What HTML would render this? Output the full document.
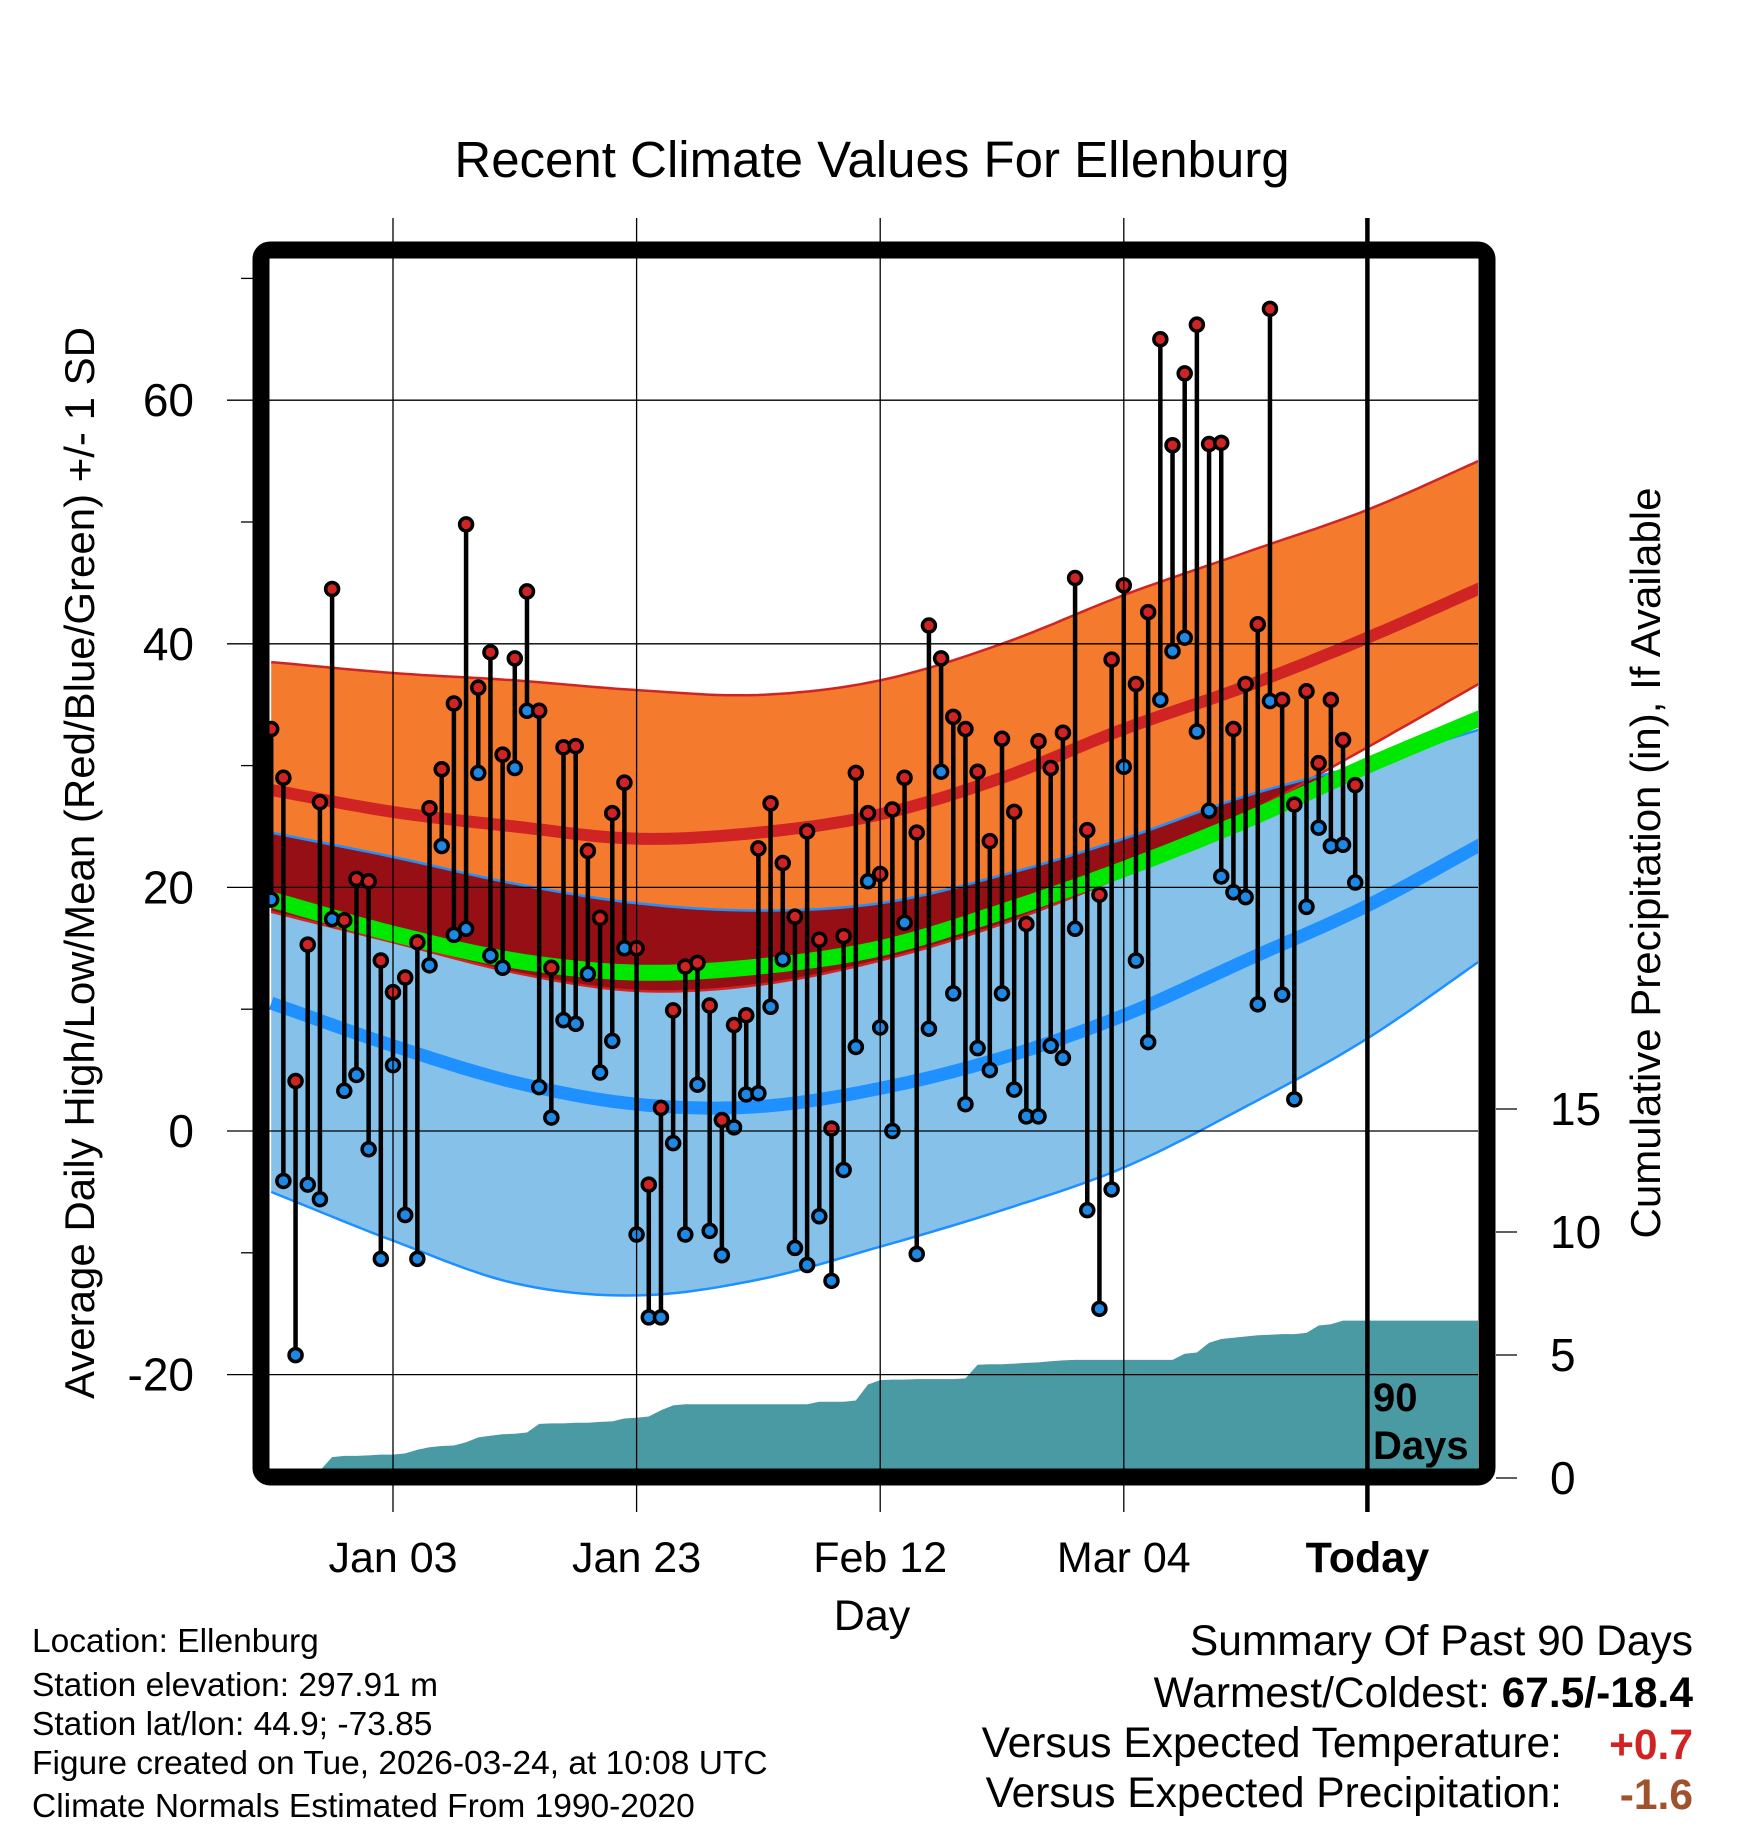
<!DOCTYPE html>
<html><head><meta charset="utf-8"><title>Recent Climate Values For Ellenburg</title>
<style>
html,body{margin:0;padding:0;background:#fff;}
svg{display:block;font-family:"Liberation Sans",Arial,sans-serif;}
</style></head>
<body>
<svg id="chart" width="1748" height="1828" viewBox="0 0 1748 1828" xmlns="http://www.w3.org/2000/svg">
<defs><clipPath id="plotclip"><rect x="269" y="259" width="1209" height="1210"/></clipPath></defs>
<rect x="0" y="0" width="1748" height="1828" fill="#fff"/>
<text x="872" y="177" font-size="51" text-anchor="middle">Recent Climate Values For Ellenburg</text>
<g id="plot" clip-path="url(#plotclip)"></g>
<g id="axes"></g>
<rect x="261" y="250" width="1226" height="1227" rx="9" fill="none" stroke="#000" stroke-width="17"/>
<text transform="translate(94,863) rotate(-90)" font-size="42" text-anchor="middle">Average Daily High/Low/Mean (Red/Blue/Green) +/- 1 SD</text>
<text transform="translate(1660,863) rotate(-90)" font-size="42" text-anchor="middle">Cumulative Precipitation (in), If Available</text>
<text x="872" y="1630" font-size="43" text-anchor="middle">Day</text>
<text x="1373" y="1411" font-size="40" font-weight="bold">90</text>
<text x="1373" y="1459" font-size="40" font-weight="bold">Days</text>
<g font-size="33.5">
<text x="32" y="1652">Location: Ellenburg</text>
<text x="32" y="1696">Station elevation: 297.91 m</text>
<text x="32" y="1735">Station lat/lon: 44.9; -73.85</text>
<text x="32" y="1774">Figure created on Tue, 2026-03-24, at 10:08 UTC</text>
<text x="32" y="1817">Climate Normals Estimated From 1990-2020</text>
</g>
<g font-size="42.5">
<text x="1693" y="1655" text-anchor="end">Summary Of Past 90 Days</text>
<text x="1693" y="1707" text-anchor="end">Warmest/Coldest: <tspan font-weight="bold">67.5/-18.4</tspan></text>
<text x="1562" y="1757" text-anchor="end">Versus Expected Temperature:</text>
<text x="1693" y="1759" text-anchor="end" font-weight="bold" fill="#d02424">+0.7</text>
<text x="1562" y="1807" text-anchor="end">Versus Expected Precipitation:</text>
<text x="1693" y="1809" text-anchor="end" font-weight="bold" fill="#a0522d">-1.6</text>
</g>
</svg>
<script>
const highs=[33,29,4.1,15.3,27,44.5,17.3,20.7,20.5,14,11.4,12.6,15.5,26.5,29.7,35.1,49.8,36.4,39.3,30.9,38.8,44.3,34.5,13.4,31.5,31.6,23,17.5,26.1,28.6,15,-4.4,1.9,9.9,13.5,13.8,10.3,0.9,8.7,9.5,23.2,26.9,22,17.6,24.6,15.7,0.2,16,29.4,26.1,21.1,26.4,29,24.5,41.5,38.8,34,33,29.5,23.8,32.2,26.2,17,32,29.8,32.7,45.4,24.7,19.4,38.7,44.8,36.7,42.6,65,56.3,62.2,66.2,56.4,56.5,33,36.7,41.6,67.5,35.4,26.8,36.1,30.2,35.4,32.1,28.4];
const lows=[19,-4.1,-18.4,-4.4,-5.6,17.4,3.3,4.6,-1.5,-10.5,5.4,-6.9,-10.5,13.6,23.4,16.1,16.6,29.4,14.4,13.4,29.8,34.5,3.6,1.1,9.1,8.8,12.9,4.8,7.4,15,-8.5,-15.3,-15.3,-1,-8.5,3.8,-8.2,-10.2,0.3,3,3.1,10.2,14.1,-9.6,-11,-7,-12.3,-3.2,6.9,20.5,8.5,0,17.1,-10.1,8.4,29.5,11.3,2.2,6.8,5,11.3,3.4,1.2,1.2,7,6,16.6,-6.5,-14.6,-4.8,29.9,14,7.3,35.4,39.4,40.5,32.8,26.3,20.9,19.6,19.2,10.4,35.3,11.2,2.6,18.4,24.9,23.4,23.5,20.4];
const precip=[0,0,0,0,0.3,0.85,0.9,0.9,0.92,0.95,0.95,1.0,1.15,1.25,1.3,1.32,1.45,1.65,1.72,1.78,1.8,1.85,2.2,2.22,2.22,2.25,2.25,2.28,2.3,2.42,2.45,2.5,2.75,2.95,3.0,3.0,3.0,3.0,3.0,3.0,3.0,3.0,3.0,3.0,3.0,3.1,3.1,3.1,3.15,3.8,3.98,4.0,4.0,4.02,4.02,4.02,4.02,4.05,4.6,4.62,4.62,4.65,4.68,4.7,4.75,4.78,4.8,4.8,4.8,4.8,4.8,4.8,4.8,4.8,4.8,5.05,5.1,5.5,5.65,5.7,5.75,5.8,5.82,5.85,5.85,5.9,6.2,6.25,6.4,6.4];
const normDays=[0,10,20,30,40,50,60,70,80,90,100];
const highPlus=[38.5,37.6,37,36.2,35.8,37,40,44,47.5,51,55.4];
const highMean=[28,26.2,25,24,24.5,26,29,33,36.5,40.5,44.9];
const highMinus=[18,15.5,13,11.5,12,14,17,21,26,31.5,37.2];
const lowPlus=[24.5,22.5,20.3,18.7,18.1,18.7,21,24,27.5,30.2,33.2];
const lowMean=[10.5,7,4,2.2,2,3.5,6,9.5,14,18.5,23.9];
const lowMinus=[-5,-9,-12.5,-13.5,-12.2,-9.5,-6.5,-3,2,7.6,14.5];
const meanT=[19,16.2,14,13,13.5,15,18,21.5,25.5,30,34.2];
const yTicks=[60,40,20,0,-20];
const yMinor=[70,50,30,10,-10];
const pTicks=[0,5,10,15];
const xTickDays=[10,30,50,70,90];
const xTickLabels=["Jan 03","Jan 23","Feb 12","Mar 04","Today"];

const NS="http://www.w3.org/2000/svg";
const X=i=>271.2+12.18*i;
const Y=t=>1131-12.18*t;
const P=v=>1478-24.6*v;
const plot=document.getElementById('plot');
const axes=document.getElementById('axes');
function mk(tag,attrs,parent){const e=document.createElementNS(NS,tag);for(const k in attrs)e.setAttribute(k,attrs[k]);parent.appendChild(e);return e;}
function curve(vals){const n=vals.length;const pts=[];
for(let k=0;k<n-1;k++){const p1=vals[k],p2=vals[k+1];
const p0=k>0?vals[k-1]:2*p1-p2;const p3=k+2<n?vals[k+2]:2*p2-p1;
for(let s=0;s<12;s++){const t=s/12;const t2=t*t,t3=t2*t;
const v=0.5*((2*p1)+(-p0+p2)*t+(2*p0-5*p1+4*p2-p3)*t2+(-p0+3*p1-3*p2+p3)*t3);
const d=normDays[k]+(normDays[k+1]-normDays[k])*t;pts.push([X(d),Y(v)]);}}
pts.push([X(normDays[n-1]),Y(vals[n-1])]);return pts;}
function band(a,b,fill,name){const p1=curve(a),p2=curve(b).reverse();const d='M'+p1.concat(p2).map(p=>p[0].toFixed(1)+','+p[1].toFixed(1)).join('L')+'Z';const e=mk('path',{d:d,fill:fill},plot);


return e;}
function line(a,stroke,w,name){const d='M'+curve(a).map(p=>p[0].toFixed(1)+','+p[1].toFixed(1)).join('L');const e=mk('path',{d:d,fill:'none',stroke:stroke,'stroke-width':w},plot);


return e;}
band(highPlus,highMinus,'#f47a2d','high-sd-band');
band(lowPlus,lowMinus,'#85c1e8','low-sd-band');
const ovTop=lowPlus.map((v,i)=>Math.min(v,highPlus[i]));
const ovBot=highMinus.map((v,i)=>Math.min(Math.max(v,lowMinus[i]),ovTop[i]));
band(ovTop,ovBot,'#960f14','overlap-band');
line(highPlus,'#d02424',2.5,'high-sd-upper-edge');
line(highMinus,'#d02424',2.5,'high-sd-lower-edge');
line(lowPlus,'#1e90ff',2.5,'low-sd-upper-edge');
line(lowMinus,'#1e90ff',2.5,'low-sd-lower-edge');
line(highMean,'#d02424',12,'normal-high-line');
line(lowMean,'#1e90ff',13,'normal-low-line');
line(meanT,'#00e800',16,'normal-mean-line');
let pd='M'+X(0)+','+1480;
precip.forEach((v,i)=>{pd+='L'+X(i).toFixed(1)+','+P(v).toFixed(1);});
pd+='L1480,'+P(precip[precip.length-1]).toFixed(1)+'L1480,1480Z';
const pa=mk('path',{d:pd,fill:'#4a9aa3'},plot);


yTicks.forEach(t=>{const g=mk('line',{x1:227,x2:1478,y1:Y(t),y2:Y(t),stroke:'#000','stroke-width':1.3},axes);


const tx=mk('text',{x:194,y:Y(t)+16,'font-size':46,'text-anchor':'end'},axes);tx.textContent=String(t);

});
yMinor.forEach(t=>{const g=mk('line',{x1:241,x2:253,y1:Y(t),y2:Y(t),stroke:'#000','stroke-width':1.3},axes);

});
xTickDays.forEach((d,k)=>{if(k<4){const g=mk('line',{x1:X(d),x2:X(d),y1:218,y2:1512,stroke:'#000','stroke-width':1.3},axes);

}
const tx=mk('text',{x:X(d),y:1572,'font-size':43,'text-anchor':'middle'},axes);tx.textContent=xTickLabels[k];if(k===4)tx.setAttribute('font-weight','bold');

});
const td=mk('line',{x1:X(90),x2:X(90),y1:218,y2:1512,stroke:'#000','stroke-width':4.5},axes);


pTicks.forEach(v=>{const g=mk('line',{x1:1496,x2:1517,y1:P(v),y2:P(v),stroke:'#000','stroke-width':1.3},axes);


const tx=mk('text',{x:1550,y:P(v)+16,'font-size':46},axes);tx.textContent=String(v);

});
highs.forEach((h,i)=>{const l=lows[i];
const s=mk('line',{x1:X(i),x2:X(i),y1:Y(h),y2:Y(l),stroke:'#000','stroke-width':4.5},plot);


const c1=mk('circle',{cx:X(i),cy:Y(l),r:6.5,fill:'#1e88e5',stroke:'#000','stroke-width':3.5},plot);


const c2=mk('circle',{cx:X(i),cy:Y(h),r:6.5,fill:'#d02424',stroke:'#000','stroke-width':3.5},plot);

});
</script>
</body></html>
